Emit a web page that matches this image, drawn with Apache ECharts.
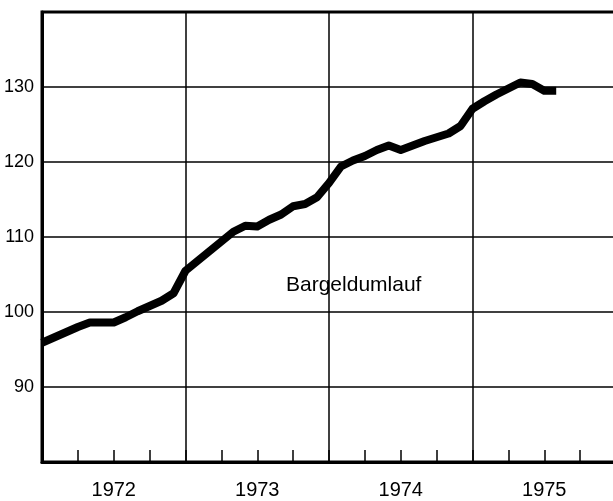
<!DOCTYPE html>
<html>
<head>
<meta charset="utf-8">
<script src="https://cdn.jsdelivr.net/npm/echarts@6/dist/echarts.min.js"></script>
<style>
  html, body { margin: 0; padding: 0; background: #fff; }
  #main { width: 613px; height: 501px; }
</style>
</head>
<body>
<div id="main"></div>
<script>
// monthly points, time in decimal years
var months = [
  1972, 1972 + 1/12, 1972 + 2/12, 1972 + 3/12, 1972 + 4/12, 1972 + 5/12,
  1972 + 6/12, 1972 + 7/12, 1972 + 8/12, 1972 + 9/12, 1972 + 10/12, 1972 + 11/12,
  1973, 1973 + 1/12, 1973 + 2/12, 1973 + 3/12, 1973 + 4/12, 1973 + 5/12,
  1973 + 6/12, 1973 + 7/12, 1973 + 8/12, 1973 + 9/12, 1973 + 10/12, 1973 + 11/12,
  1974, 1974 + 1/12, 1974 + 2/12, 1974 + 3/12, 1974 + 4/12, 1974 + 5/12,
  1974 + 6/12, 1974 + 7/12, 1974 + 8/12, 1974 + 9/12, 1974 + 10/12, 1974 + 11/12,
  1975, 1975 + 1/12, 1975 + 2/12, 1975 + 3/12, 1975 + 4/12, 1975 + 5/12,
  1975 + 6/12, 1975 + 7/12
];
var bargeld = [
  95.9, 96.6, 97.3, 98.0, 98.6, 98.6, 98.6, 99.3, 100.1, 100.8, 101.5, 102.5,
  105.5, 106.8, 108.1, 109.4, 110.7, 111.5, 111.4, 112.3, 113.0, 114.1, 114.4, 115.3,
  117.2, 119.4, 120.2, 120.8, 121.6, 122.2, 121.6, 122.2, 122.8, 123.3, 123.8, 124.8,
  127.1, 128.1, 129.0, 129.8, 130.6, 130.4, 129.5, 129.5
];
var yTicks = [90, 100, 110, 120, 130];
var yearLabels = ['1972', '1973', '1974', '1975'];
var seriesName = 'Bargeldumlauf';

var lineData = [];
for (var i = 0; i < months.length; i++) {
  lineData.push([months[i], bargeld[i]]);
}

var myChart = echarts.init(document.getElementById('main'));
var font = 'Liberation Sans, Arial, sans-serif';

var option = {
  backgroundColor: '#fff',
  animation: false,
  grid: {
    left: 42, right: -3, top: 12, bottom: 39,
    outerBoundsMode: 'none',
    containLabel: false,
    show: true, borderColor: '#000', borderWidth: 3
  },
  xAxis: [
    {
      // quarter ticks
      type: 'value', position: 'bottom', min: 1972, max: 1976, interval: 0.25,
      axisLine: { lineStyle: { color: '#000', width: 3 } },
      axisTick: { inside: true, length: 12, lineStyle: { color: '#000', width: 1.5 } },
      axisLabel: { show: false },
      splitLine: { show: false }
    },
    {
      // year boundaries + year labels in the middle
      type: 'value', position: 'bottom', min: 1972, max: 1976, interval: 0.5,
      axisLine: { show: false },
      axisTick: { show: false },
      axisLabel: {
        margin: 18, color: '#000', fontSize: 20, fontFamily: font,
        formatter: function (v) {
          var k = Math.round((v - 1972.5));
          if (Math.abs(v - Math.floor(v) - 0.5) < 1e-6 && yearLabels[k]) return yearLabels[k];
          return '';
        }
      },
      splitLine: {
        show: true,
        lineStyle: { color: ['#000', 'transparent'], width: 1.5 }
      }
    }
  ],
  yAxis: {
    type: 'value', min: 80, max: 140, interval: 10,
    axisLine: { show: true, lineStyle: { color: '#000', width: 3 } },
    axisTick: { show: false },
    axisLabel: {
      margin: 8, color: '#000', fontSize: 18, fontFamily: font,
      formatter: function (v) { return yTicks.indexOf(v) >= 0 ? String(v) : ''; }
    },
    splitLine: { show: true, lineStyle: { color: '#000', width: 1.5 } }
  },
  graphic: [
    {
      type: 'text', left: 286, top: 275,
      style: { text: seriesName, fill: '#000', font: '21px Liberation Sans, Arial, sans-serif' }
    }
  ],
  series: [
    {
      name: seriesName,
      type: 'line',
      xAxisIndex: 0,
      data: lineData,
      showSymbol: false,
      symbol: 'none',
      lineStyle: { color: '#000', width: 8, join: 'round' }
    }
  ]
};
myChart.setOption(option);
</script>
</body>
</html>
